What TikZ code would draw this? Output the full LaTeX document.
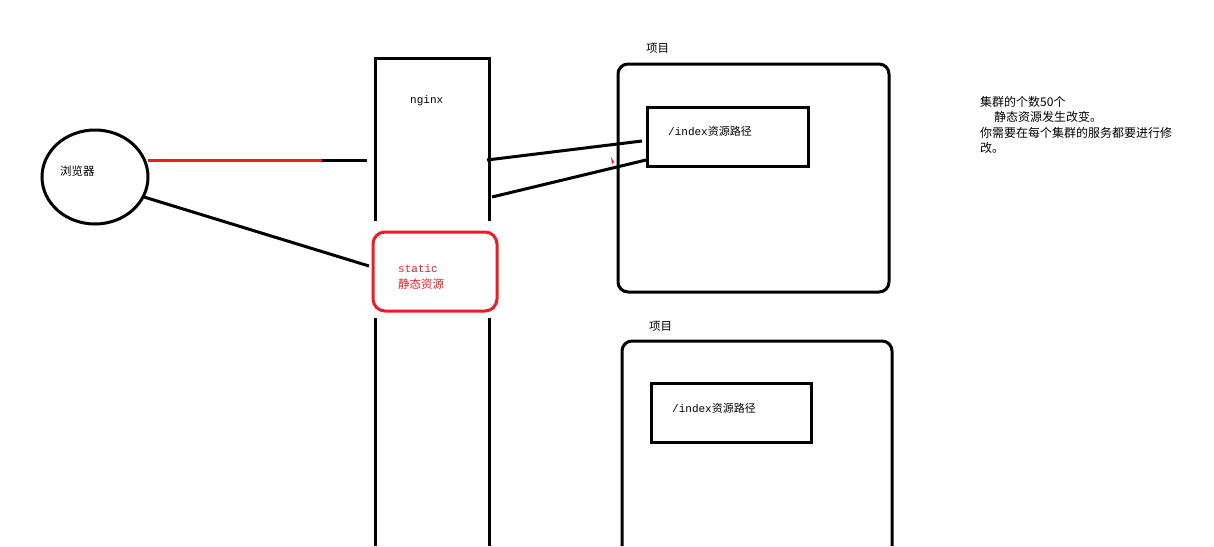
\documentclass[tikz,border=0pt]{standalone}
\usepackage{fontspec}
\setmainfont{Liberation Mono}
\newfontfamily\cjk{Noto Sans CJK SC}
\usetikzlibrary{shapes.geometric}
\definecolor{pred}{RGB}{237,28,36}
\begin{document}
\begin{tikzpicture}[x=1pt,y=-1pt,
  thick3/.style={line width=3pt},
  lbl/.style={inner sep=0pt,anchor=west,font=\fontsize{11}{14}\selectfont},
  cj/.style={inner sep=0pt,anchor=west,font=\cjk\fontsize{11.5}{14}\selectfont}]
\useasboundingbox[fill=white] (0,0) rectangle (1214,546);
% browser
\node[draw,thick3,ellipse,minimum width=106pt,minimum height=94pt] (br) at (95,177) {};
\node[cj] (brt) at (60,171) {浏览器};
% nginx column
\draw[thick3] (375,221) -- (375,58) -- (489,58) -- (489,221);
\draw[thick3] (375,318) -- (375,546);
\draw[thick3] (489,318) -- (489,546);
\node[lbl] (ng) at (410,101) {nginx};
% static box
\node[draw=pred,thick3,rounded corners=12pt,minimum width=124pt,minimum height=79pt,inner sep=0pt] (st) at (435,271.5) {};
\node[lbl,text=pred] (stt) at (398,269) {static};
\node[cj,text=pred] (stc) at (398,284) {静态资源};
% connectors browser-nginx
\coordinate (r1) at (148,160);
\coordinate (r2) at (322,160);
\coordinate (r3) at (367,160);
\draw[pred,thick3] (r1) -- (r2);
\draw[thick3] (r2) -- (r3);
\coordinate (b1) at (144,197);
\coordinate (b2) at (369,266);
\draw[thick3] (b1) -- (b2);
% project 1
\node[cj] (p1l) at (646,48) {项目};
\node[draw,thick3,rounded corners=10pt,minimum width=271pt,minimum height=228pt,inner sep=0pt] (p1) at (753.5,178) {};
\node[draw,thick3,minimum width=161pt,minimum height=59pt,inner sep=0pt] (i1) at (727.5,136.5) {};
\node[lbl] (i1t) at (668,131) {/index\cjk 资源路径};
% connectors nginx-project
\coordinate (n1) at (487,160);
\coordinate (n2) at (492,197);
\coordinate (e1) at (642,141);
\coordinate (e2) at (646,160);
\draw[thick3] (n1) -- (e1);
\draw[thick3] (n2) -- (e2);
\fill[pred] (611,157) -- (614,162) -- (612,164) -- cycle;
% project 2
\node[cj] (p2l) at (649,326) {项目};
\draw[thick3,rounded corners=10pt] (622,546) -- (622,341) -- (892,341) -- (892,546);
\node[draw,thick3,minimum width=160pt,minimum height=59pt,inner sep=0pt] (i2) at (731,412.5) {};
\node[lbl] (i2t) at (672,408) {/index\cjk 资源路径};
% notes
\node[cj,anchor=north west,align=left,font=\cjk\fontsize{12}{15.5}\selectfont] (note) at (980,96) {集群的个数50个\\\hspace*{14pt}静态资源发生改变。\\你需要在每个集群的服务都要进行修\\改。};
\end{tikzpicture}
\end{document}
